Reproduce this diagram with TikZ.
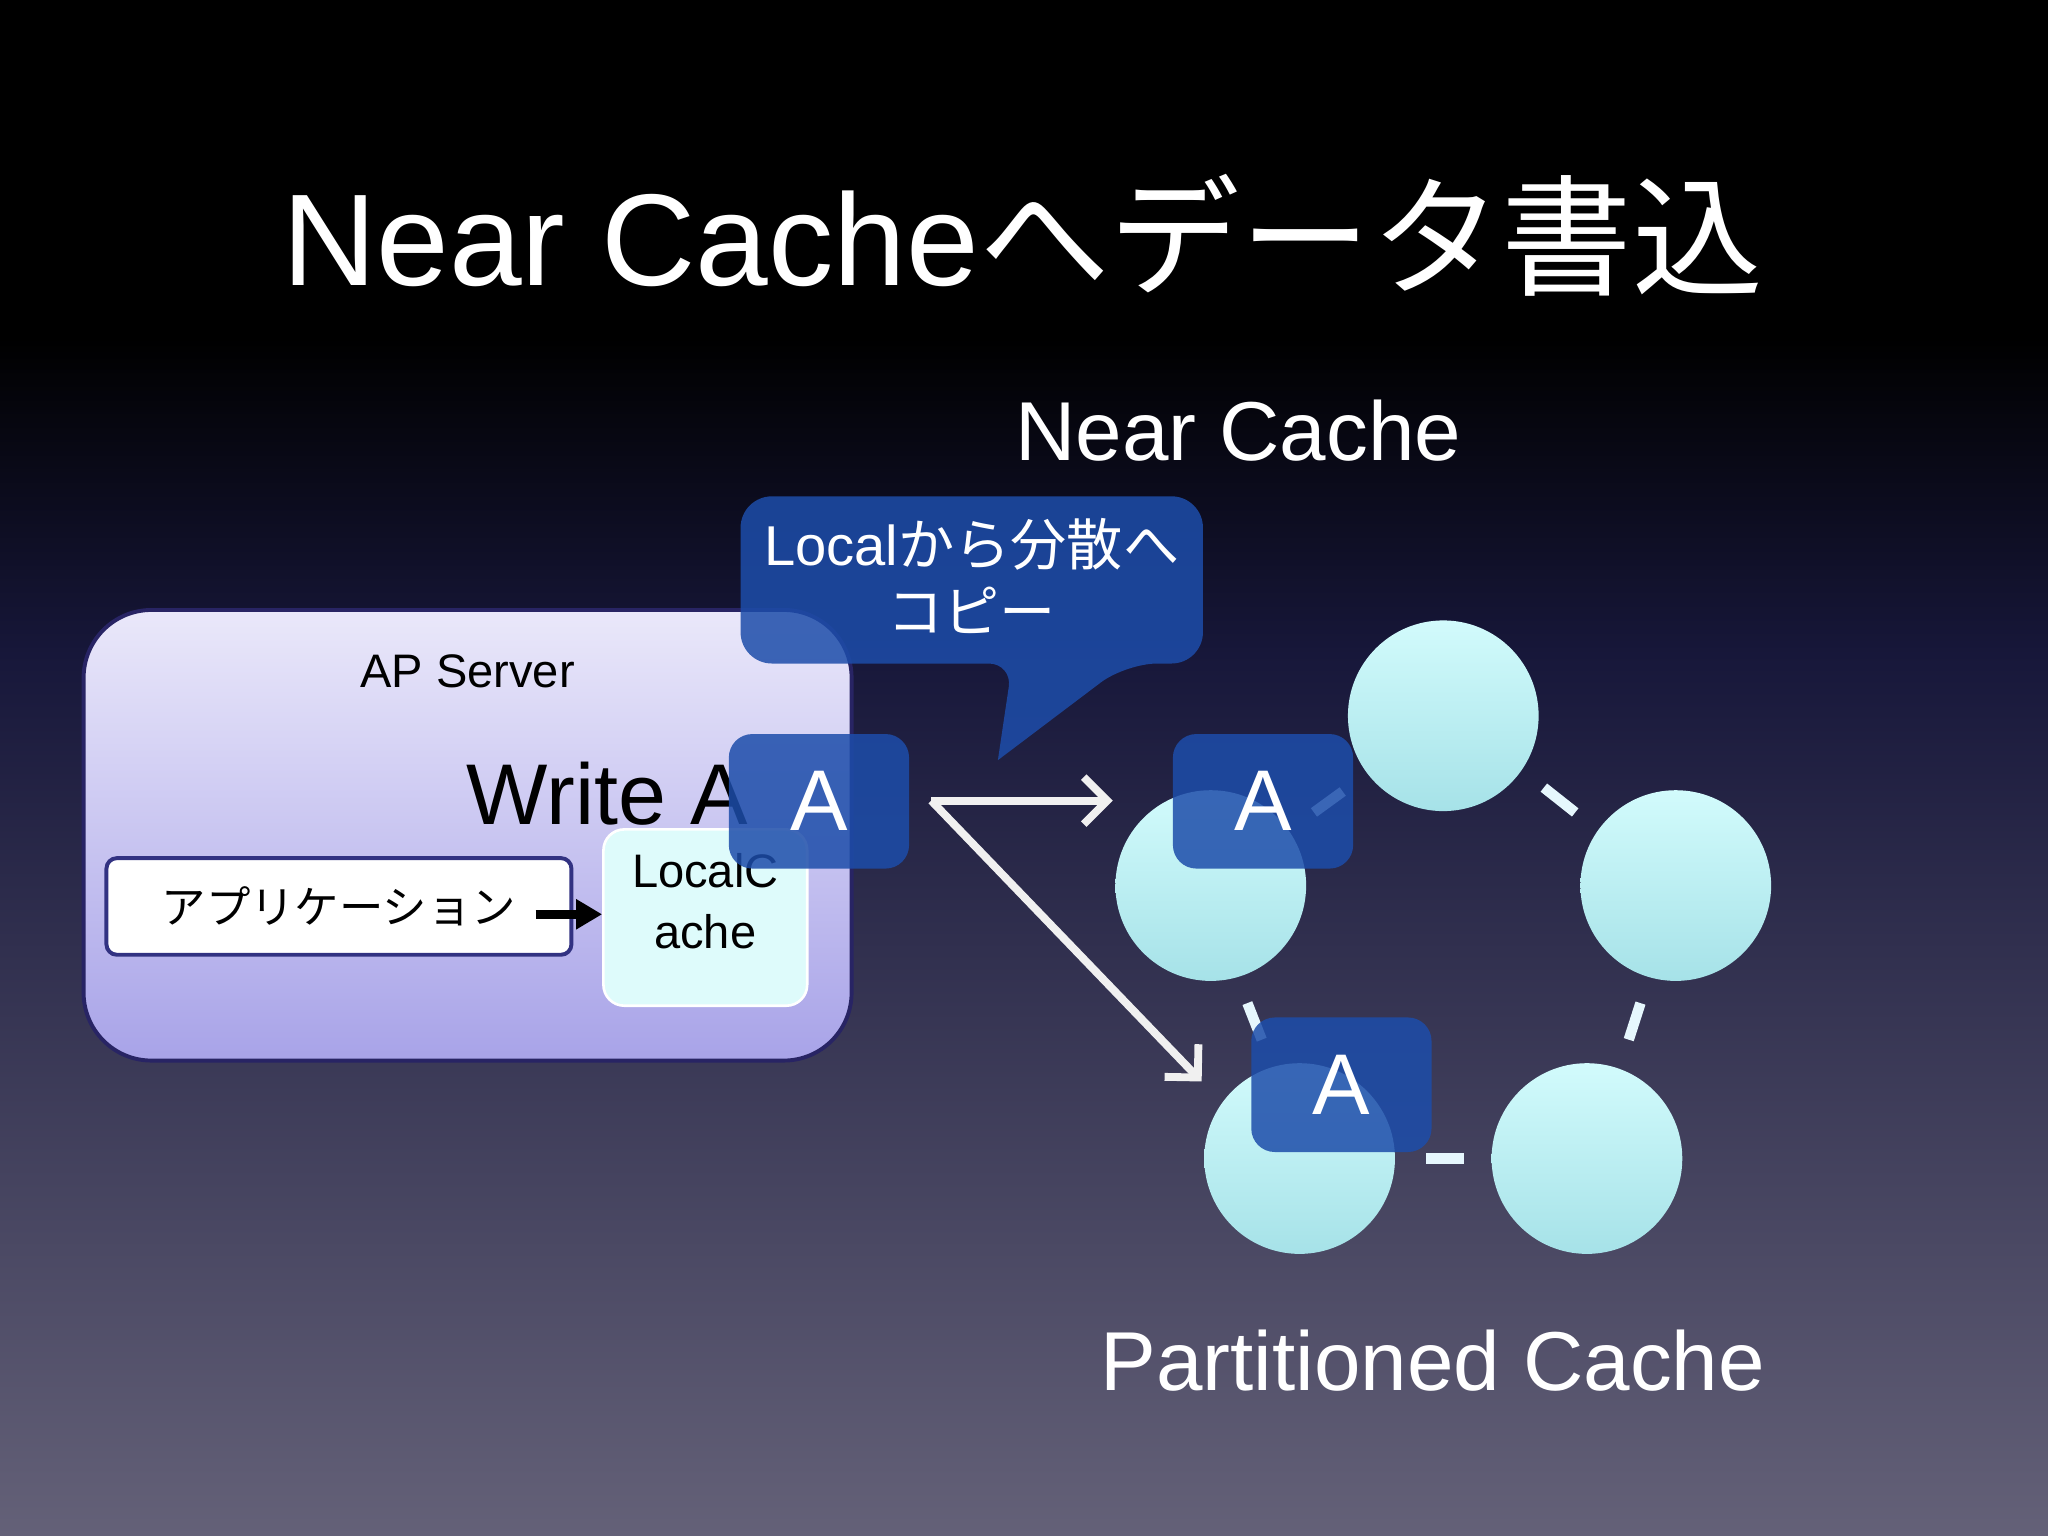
\documentclass[tikz,border=0pt]{standalone}
\usepackage{fontspec}
\setmainfont{Liberation Sans}
\newfontfamily\cjk{Noto Sans CJK JP}
\usetikzlibrary{arrows.meta}
\definecolor{abox}{HTML}{1D4DAA}
\definecolor{cyanA}{HTML}{D2FBFC}
\definecolor{cyanB}{HTML}{A6E2E8}
\definecolor{navybg}{HTML}{17173A}
\definecolor{graybg}{HTML}{646178}
\tikzset{
  abox/.style={draw=none,fill=abox,fill opacity=0.85,text opacity=1,rounded corners=9pt,minimum width=69pt,minimum height=51.5pt,text=white,font=\fontsize{33}{40}\selectfont},
  node circ/.style={circle,draw=none,inner sep=0pt,minimum size=73pt,top color=cyanA,bottom color=cyanB},
  link/.style={white!90!cyan,line width=4pt},
  warrow/.style={draw=white!88!gray,line width=3pt,-{Straight Barb[length=9pt,width=18pt,line width=3pt]}},
}
\begin{document}
\begin{tikzpicture}[x=0.5pt,y=-0.5pt]
\useasboundingbox (0,0) rectangle (1568,1176);
\fill[black] (0,0) rectangle (1568,260);
\path[top color=black,bottom color=navybg] (0,259) rectangle (1568,501);
\path[top color=navybg,bottom color=graybg] (0,500) rectangle (1568,1176);
% title
\node[text=white,font=\fontsize{50}{56}\selectfont] (title) at (783,180) {Near Cache{\cjk へデータ書込}};
\node[text=white,font=\fontsize{32}{36}\selectfont] (nc) at (948,330) {Near Cache};
\node[text=white,font=\fontsize{32}{36}\selectfont] (pc) at (1097,1042) {Partitioned Cache};
% AP server
\path[draw={rgb,255:red,40;green,36;blue,100},line width=1.5pt,rounded corners=26pt,top color={rgb,255:red,234;green,232;blue,250},bottom color={rgb,255:red,168;green,163;blue,232}] (64,467) rectangle (652,812);
\node[font=\fontsize{18}{22}\selectfont] (aps) at (358,514) {AP Server};
\node[font=\fontsize{33}{38}\selectfont] (wa) at (465,608) {Write A};
\node[draw={rgb,255:red,50;green,50;blue,130},line width=1.5pt,fill=white,rounded corners=4pt,minimum width=178pt,minimum height=37pt,font=\cjk\fontsize{17}{20}\selectfont] (app) at (259.5,694) {アプリケーション};
\node[draw=white,line width=1pt,fill={rgb,255:red,222;green,251;blue,251},rounded corners=8pt,minimum width=78pt,minimum height=67.5pt] (lc) at (540,702.5) {};
\node[align=center,font=\fontsize{18}{23}\selectfont] (lct) at (540,690) {LocalC\\ache};
\coordinate (astart) at (410,700);
\draw[line width=3.5pt,-{Triangle[length=10pt,width=11pt]}] (astart) -- (lc.west|-astart);
% callout
\fill[abox,opacity=0.85] (764,582) -- (775,508) [rounded corners=12pt] -- (567,508) -- (567,380) -- (921,380) -- (921,508) -- (862,508) [sharp corners] -- (764,582) -- cycle;
\node[text=white,align=center,font=\fontsize{21.5}{26}\selectfont] (call) at (744,441) {Local{\cjk から分散へ}\\{\cjk コピー}};
% circles
\node[node circ] (c1) at (927,678) {};
\node[node circ] (c2) at (1105,548) {};
\node[node circ] (c3) at (1283,678) {};
\node[node circ] (c4) at (995,887) {};
\node[node circ] (c5) at (1215,887) {};
\draw[link] (1182,603) -- (1206,622);
\draw[link] (1006,622) -- (1028,606);
\draw[link] (1256,768) -- (1247,796);
\draw[link] (955,768) -- (966,796);
\draw[link] (1092,887) -- (1121,887);
% A boxes
\node[abox] (a1) at (627,613.5) {A};
\node[abox] (a2) at (967,613.5) {A};
\node[abox] (a3) at (1027,830.5) {A};
% arrows
\coordinate (src) at (713,613);
\draw[warrow] (src) -- (852,613);
\draw[warrow] (src) -- (920,828);
\end{tikzpicture}
\end{document}
